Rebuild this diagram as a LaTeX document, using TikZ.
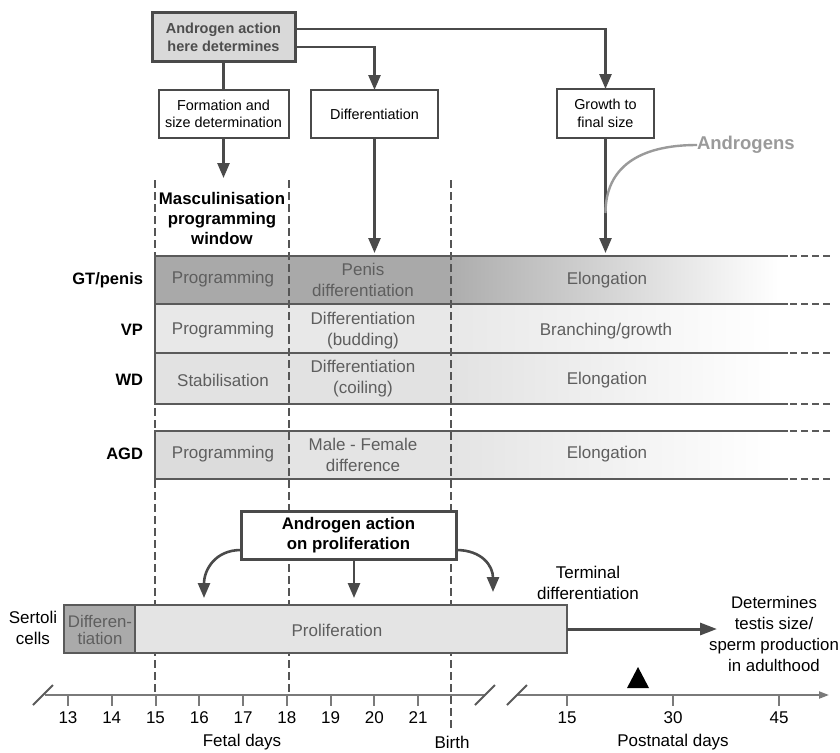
\documentclass[tikz,border=0pt]{standalone}
\usepackage{fontspec}
\setmainfont{Liberation Sans}
\usetikzlibrary{arrows.meta}
\definecolor{lncol}{HTML}{4A4A4A}
\definecolor{bordcol}{HTML}{5A5A5A}
\definecolor{dashcol}{HTML}{555555}
\definecolor{axiscol}{HTML}{7A7A7A}
\definecolor{bandtext}{HTML}{5E5E5E}
\definecolor{topfill}{HTML}{D9D9D9}
\definecolor{toptext}{HTML}{4D4D4D}
\definecolor{andrcol}{HTML}{9A9A9A}
\definecolor{gtfill}{HTML}{A9A9A9}
\definecolor{gtfillb}{HTML}{ADADAD}
\definecolor{vpfill}{HTML}{E8E8E8}
\definecolor{wdfill}{HTML}{E2E2E2}
\definecolor{agdfill}{HTML}{DCDCDC}
\definecolor{agdfillb}{HTML}{E4E4E4}
\definecolor{sdfill}{HTML}{AAAAAA}
\definecolor{spfill}{HTML}{E4E4E4}
\begin{document}
\begin{tikzpicture}[x=1pt,y=-1pt,
  every node/.style={inner sep=0pt, outer sep=0pt},
  t17/.style={font=\fontsize{17}{21}\selectfont, align=center},
  t14/.style={font=\fontsize{14.4}{17.5}\selectfont, align=center},
  btxt/.style={t17, text=bandtext},
  rowlab/.style={font=\fontsize{16.5}{20}\selectfont\bfseries, anchor=east},
  sbox/.style={draw=lncol, line width=2pt, fill=white, minimum height=48pt, t14},
  conn/.style={draw=lncol, line width=2.6pt},
  tip/.style={-{Triangle[length=15pt,width=12pt]}},
  vdash/.style={draw=dashcol, line width=1.8pt, dash pattern=on 8pt off 4pt},
  edash/.style={draw=bordcol, line width=2pt, dash pattern=on 7pt off 4pt},
  bord/.style={draw=bordcol, line width=2pt},
  axisln/.style={draw=axiscol, line width=2pt},
  slash/.style={draw=bordcol, line width=2pt},
]
\useasboundingbox[fill=white] (0,0) rectangle (840,752);

% ---------- top boxes ----------
\node[draw=lncol, line width=3pt, fill=topfill, minimum width=143pt, minimum height=49pt,
      font=\fontsize{14.5}{17.5}\selectfont\bfseries, text=toptext, align=center]
      (tb) at (223.5,37.5) {Androgen action\\here determines};
\node[sbox, minimum width=130pt] (fb) at (223.5,114) {Formation and\\size determination};
\node[sbox, minimum width=127pt] (db) at (374.5,114) {Differentiation};
\node[sbox, minimum width=97pt, minimum height=49pt] (gb) at (605.5,113.5) {Growth to\\final size};

\coordinate (mwtop) at (223.5,178);
\coordinate (dbend) at (374.5,253);
\coordinate (gbend) at (605.5,253);
\coordinate (gmeet) at (605.5,213);

\draw[conn] (tb.south) -- (fb.north);
\draw[conn,tip] (fb.south) -- (mwtop);
\draw[conn,tip] ([yshift=8.5pt]tb.east) -| (gb.north);
\draw[conn,tip] ([yshift=-9.5pt]tb.east) -| (db.north);
\draw[conn,tip] (db.south) -- (dbend);
\draw[conn,tip] (gb.south) -- (gbend);

\node[font=\fontsize{18.5}{22}\selectfont\bfseries, text=andrcol, anchor=west] (andr) at (697,145) {Androgens};
\draw[draw=andrcol, line width=2.4pt] (andr.west) .. controls (638,145) and (605.5,168) .. (gmeet);

% ---------- window label ----------
\node[font=\fontsize{16.8}{20}\selectfont\bfseries, align=center] (mw) at (222,218)
  {Masculinisation\\programming\\window};

% ---------- band fills ----------
\fill[gtfill] (155,256) rectangle (451,304);
\shade[left color=gtfillb, right color=white] (451,256) rectangle (778,304);
\fill[vpfill] (155,304) rectangle (451,353);
\shade[left color=vpfill, right color=white] (451,304) rectangle (775,353);
\fill[wdfill] (155,353) rectangle (451,404);
\shade[left color=wdfill, right color=white] (451,353) rectangle (775,404);
\fill[agdfill] (155,431) rectangle (289,479);
\fill[agdfillb] (289,431) rectangle (451,479);
\shade[left color=agdfillb, right color=white] (451,431) rectangle (775,479);

% ---------- vertical dashed lines ----------
\draw[vdash] (155,180) -- (155,695);
\draw[vdash] (289,180) -- (289,695);
\draw[vdash] (451,180) -- (451,728);

% ---------- band borders ----------
\foreach \yy in {256,304,353,404,431,479}{
  \draw[bord] (155,\yy) -- (788,\yy);
  \draw[edash] (790,\yy) -- (832,\yy);
}
\draw[bord] (155,255) -- (155,405);
\draw[bord] (155,430) -- (155,480);

% ---------- row labels ----------
\node[rowlab] (lgt) at (143,280) {GT/penis};
\node[rowlab] (lvp) at (143,330) {VP};
\node[rowlab] (lwd) at (143,380) {WD};
\node[rowlab] (lagd) at (143,454) {AGD};

% ---------- band texts ----------
\node[btxt] (gt1) at (223,279) {Programming};
\node[btxt] (gt2) at (363,280) {Penis\\differentiation};
\node[btxt] (gt3) at (607,280) {Elongation};
\node[btxt] (vp1) at (223,330) {Programming};
\node[btxt] (vp2) at (363,330.5) {Differentiation\\(budding)};
\node[btxt] (vp3) at (606,331) {Branching/growth};
\node[btxt] (wd1) at (223,380) {Stabilisation};
\node[btxt] (wd2) at (363,378.5) {Differentiation\\(coiling)};
\node[btxt] (wd3) at (607,380) {Elongation};
\node[btxt] (ag1) at (223,454) {Programming};
\node[btxt] (ag2) at (363,455) {Male - Female\\difference};
\node[btxt] (ag3) at (607,454) {Elongation};

% ---------- proliferation box ----------
\node[draw=lncol, line width=3pt, fill=white, minimum width=215pt, minimum height=48pt,
      font=\fontsize{16.8}{20}\selectfont\bfseries, align=center]
      (pb) at (348.5,535) {Androgen action\\on proliferation};
\coordinate (pl) at (204,598);
\coordinate (pm) at (354,598);
\coordinate (pr) at (493,592);
\draw[conn,tip] ([yshift=-15pt]pb.west) .. controls (215,550) and (204,570) .. (pl);
\draw[conn,tip] ([xshift=5.5pt]pb.south) -- (pm);
\draw[conn,tip] ([yshift=-15pt]pb.east) .. controls (482,550) and (493,566) .. (pr);

% ---------- Sertoli bar ----------
\node[draw=bordcol, line width=2pt, fill=sdfill, minimum width=71pt, minimum height=48pt] (sd) at (99.5,629) {};
\node[draw=bordcol, line width=2pt, fill=spfill, minimum width=432pt, minimum height=48pt] (sp) at (351,629) {};
\node[btxt, font=\fontsize{16.8}{17}\selectfont] (sdt) at (100,630) {Differen-\\tiation};
\node[btxt] (spt) at (337,630) {Proliferation};
\node[t17] (sc) at (33,627.5) {Sertoli\\cells};
\node[t17] (td) at (588,582.5) {Terminal\\differentiation};
\node[t17, font=\fontsize{16.8}{20.7}\selectfont] (dt) at (774,634) {Determines\\testis size/\\sperm production\\in adulthood};
\coordinate (dtin) at (717,629);
\draw[draw=lncol, line width=3pt, -{Triangle[length=17pt,width=12pt]}] (sp.east) -- (dtin);

% ---------- triangle marker ----------
\fill[black] (638,667) -- (649,688) -- (627,688) -- cycle;

% ---------- axis ----------
\draw[axisln] (45,695) -- (485,695);
\draw[axisln, -{Triangle[length=10pt,width=7pt]}] (517,695) -- (829,695);
\draw[slash] (33,705) -- (53,685);
\draw[slash] (475,705) -- (495,685);
\draw[slash] (507,705) -- (527,685);
\foreach \d in {13,...,21}{
  \pgfmathsetmacro{\xx}{68+43.75*(\d-13)}
  \draw[axisln] (\xx,695) -- (\xx,706);
  \node[t17] at (\xx,717.5) {\d};
}
\foreach \d/\xx in {15/567,30/673,45/779}{
  \draw[axisln] (\xx,695) -- (\xx,706);
  \node[t17] at (\xx,717.5) {\d};
}
\node[t17] (fd) at (242,742) {Fetal days};
\node[t17] (bi) at (452,742) {Birth};
\node[t17] (pd) at (673,742) {Postnatal days};
\end{tikzpicture}
\end{document}
